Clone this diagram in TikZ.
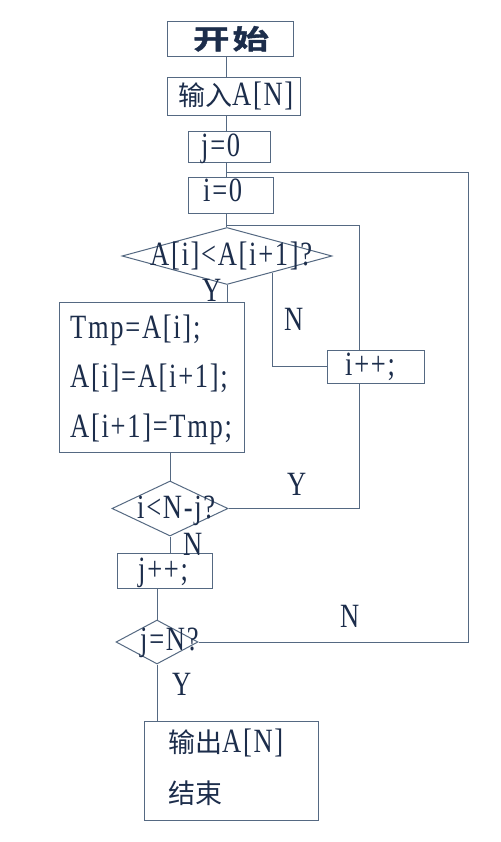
\documentclass[tikz,border=0pt]{standalone}
\usepackage{fontspec}
\setmainfont{Liberation Serif}
\newfontfamily\lat[FakeStretch=0.78,LetterSpace=5]{Liberation Serif}
\newfontfamily\cjk{Noto Sans CJK SC}
\newfontfamily\cjkb[FakeStretch=1.35,FakeBold=1.5]{Noto Sans CJK SC Bold}
\usetikzlibrary{shapes.geometric,calc}
\definecolor{ln}{RGB}{85,105,130}
\definecolor{tx}{RGB}{28,45,75}
\begin{document}
\begin{tikzpicture}[x=1pt,y=-1pt,
  box/.style={draw=ln,line width=1pt,rectangle,inner sep=0pt},
  dia/.style={draw=ln,line width=1pt,diamond,inner sep=0pt},
  conn/.style={draw=ln,line width=1pt},
  lt/.style={text=tx,inner sep=0pt,anchor=base west,font=\lat\fontsize{34}{40}\selectfont},
  ct/.style={text=tx,inner sep=0pt,anchor=base west,font=\cjk\fontsize{27}{32}\selectfont}]
\fill[white] (0,0) rectangle (500,842);
\path[use as bounding box] (0,0) rectangle (500,842);

% boxes
\node[box,minimum width=126pt,minimum height=35pt] (start) at (230,39.5) {};
\node[box,minimum width=133pt,minimum height=38pt] (input) at (233.5,97) {};
\node[box,minimum width=82pt,minimum height=31pt] (j0) at (229,147.5) {};
\node[box,minimum width=85pt,minimum height=36pt] (i0) at (230.5,196) {};
\node[dia,minimum width=210pt,minimum height=57pt] (d1) at (227,256) {};
\node[box,minimum width=185pt,minimum height=150pt] (swap) at (151.5,377) {};
\node[box,minimum width=97pt,minimum height=33pt] (ipp) at (375.5,366.5) {};
\node[dia,minimum width=116pt,minimum height=55pt] (d2) at (170,508.5) {};
\node[box,minimum width=95pt,minimum height=35pt] (jpp) at (164.5,570.5) {};
\node[dia,minimum width=82pt,minimum height=44pt] (d3) at (157,642) {};
\node[box,minimum width=174pt,minimum height=99pt] (out) at (231,770.5) {};

% texts
\node[text=tx,inner sep=0pt,anchor=base,font=\cjkb\fontsize{27}{30}\selectfont] (tstart) at (231,49) {开\hspace{3pt}始};
\node[ct] (tinput) at (178,106) {输入{\lat\fontsize{34}{40}\selectfont A[N]}};
\node[lt] (tj0) at (201,157) {j=0};
\node[lt] (ti0) at (203,202) {i=0};
\node[lt] (td1) at (150,265) {A[i]<A[i+1]?};
\node[lt] (ts1) at (70,338) {Tmp=A[i];};
\node[lt] (ts2) at (70,387) {A[i]=A[i+1];};
\node[lt] (ts3) at (70,437) {A[i+1]=Tmp;};
\node[lt] (tipp) at (345,375) {i++;};
\node[lt] (td2) at (137,518) {i<N-j?};
\node[lt] (tjpp) at (138,580) {j++;};
\node[lt] (td3) at (140,650) {j=N?};
\node[ct] (tout1) at (168,752) {输出{\lat\fontsize{34}{40}\selectfont A[N]}};
\node[ct] (tout2) at (168,803) {结束};

% labels
\node[lt] (ly1) at (202,301) {Y};
\node[lt] (ln1) at (284,330) {N};
\node[lt] (ly2) at (287,495) {Y};
\node[lt] (ln2) at (183,555) {N};
\node[lt] (ln3) at (340,627) {N};
\node[lt] (ly3) at (172,695) {Y};

% helper coordinates
\coordinate (sp1) at (226,0);
\coordinate (oloop) at (468,173);
\coordinate (iloop) at (359,225);

% connectors
\draw[conn] (start.south -| sp1) -- (input.north -| sp1);
\draw[conn] (input.south -| sp1) -- (j0.north -| sp1);
\draw[conn] (j0.south -| sp1) -- (i0.north -| sp1);
\draw[conn] (i0.south -| sp1) -- (d1.north -| sp1);
\draw[conn] (d3.east) -- (d3.east -| oloop) -- (oloop) -- (oloop -| sp1);
\draw[conn] (ipp.north -| iloop) -- (iloop) -- (iloop -| sp1);
\draw[conn] (d1.south) -- (swap.north -| d1.south);
\draw[conn] ($(d1.south)!0.43!(d1.east)$) |- (ipp.west);
\draw[conn] (swap.south -| d2.north) -- (d2.north);
\draw[conn] (ipp.south -| iloop) |- (d2.east);
\draw[conn] (d2.south) -- (jpp.north -| d2.south);
\draw[conn] (jpp.south -| d3.north) -- (d3.north);
\draw[conn] (d3.south) -- (out.north -| d3.south);
\end{tikzpicture}
\end{document}
